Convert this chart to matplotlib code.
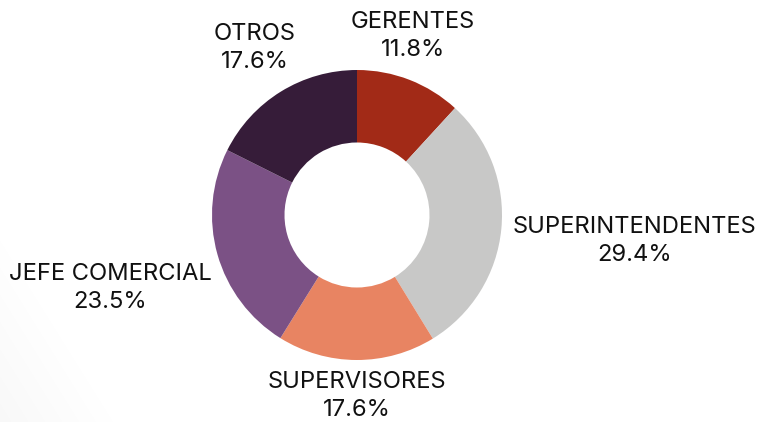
import matplotlib
matplotlib.use("Agg")
import matplotlib.pyplot as plt
import numpy as np

categories = ["GERENTES", "SUPERINTENDENTES", "SUPERVISORES", "JEFE COMERCIAL", "OTROS"]
values = [11.8, 29.4, 17.6, 23.5, 17.6]
colors = ["#A22A17", "#C8C8C7", "#E88462", "#7B5185", "#361C39"]

W, H = 759, 422
fig = plt.figure(figsize=(W / 100, H / 100), dpi=100)
ax = fig.add_axes([0, 0, 1, 1])

# very faint soft shadow in lower-left corner
yy, xx = np.mgrid[0:H, 0:W]
d = (xx * 0.85 + yy * 0.53)  # distance along diagonal from bottom-left
shade = np.clip(1 - d / 110.0, 0, 1) * 0.03
rgba = np.zeros((H, W, 4))
rgba[..., 3] = shade
ax.imshow(rgba, extent=(0, W, 0, H), origin="lower", zorder=0, interpolation="bilinear")

cx, cy = 357, H - 215
R = 145
ax.pie(values, colors=colors, startangle=90, counterclock=False,
       center=(cx, cy), radius=R, frame=True,
       wedgeprops=dict(width=R * 0.5, edgecolor="none"))
ax.set_xlim(0, W)
ax.set_ylim(0, H)
ax.set_aspect("equal")
ax.axis("off")

label_pos = [(413, 36), (635, 241), (357, 396), (110, 288), (255, 48)]
for name, v, (x, y) in zip(categories, values, label_pos):
    ax.text(x, H - y, f"{name}\n{v:.1f}%", ha="center", va="center",
            fontsize=17.1, family="Inter", color="#111111", linespacing=1.3)

fig.savefig("out.png", dpi=100)
